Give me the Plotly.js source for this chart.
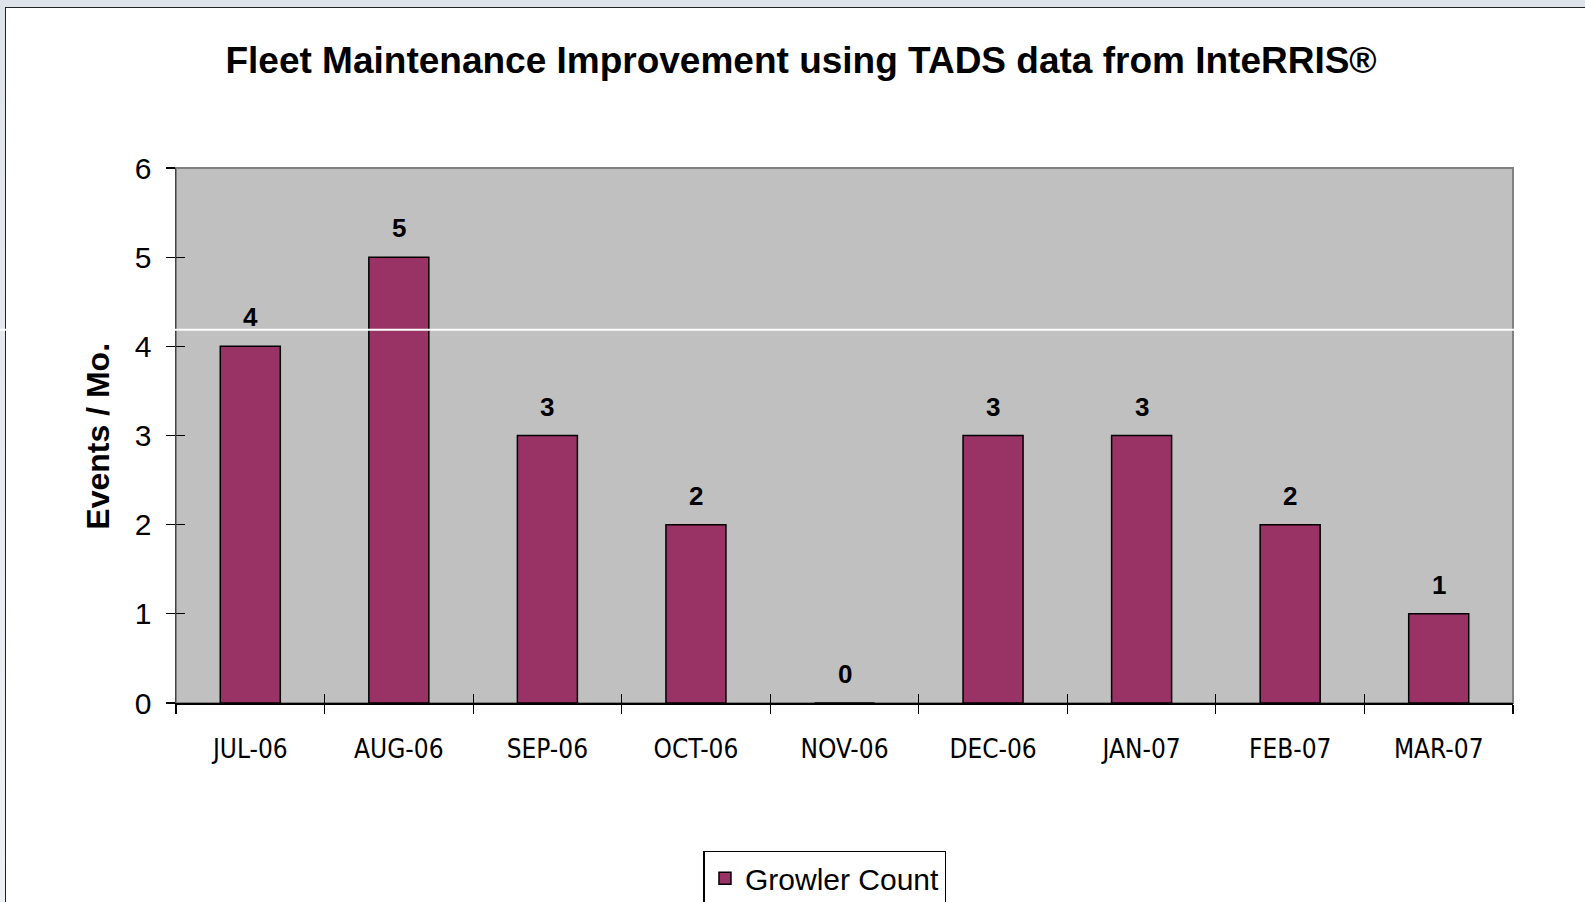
<!DOCTYPE html>
<html>
<head>
<meta charset="utf-8">
<script src="https://cdn.plot.ly/plotly-3.0.1.min.js"></script>
<style>
  html, body { margin:0; padding:0; width:1585px; height:902px; overflow:hidden;
    background: linear-gradient(180deg, #dfe4ea 0%, #eef1f4 100%); }
  #frame { position:absolute; left:5px; top:7px; width:1600px; height:920px;
    background:#ffffff; border:1.5px solid #222; }
  #chart { position:absolute; left:0; top:0; width:1585px; height:902px; }
</style>
</head>
<body>
<div id="frame"></div>
<div id="chart"></div>
<script>
// ---- data ----
const months = ['JUL-06','AUG-06','SEP-06','OCT-06','NOV-06','DEC-06','JAN-07','FEB-07','MAR-07'];
const growlerCount = [4, 5, 3, 2, 0, 3, 3, 2, 1];
const seriesName = 'Growler Count';
const chartTitle = 'Fleet Maintenance Improvement using TADS data from InteRRIS®';
const yTitle = 'Events / Mo.';
const yTickVals = [0, 1, 2, 3, 4, 5, 6];

const FONT = 'Liberation Sans, Arial, sans-serif';
const NARROW = 'DejaVu Sans Condensed, Liberation Sans, Arial, sans-serif';

const bars = {
  type: 'bar',
  x: months,
  y: growlerCount,
  name: seriesName,
  marker: { color: '#993366', line: { color: '#000000', width: 1.5 } },
  hoverinfo: 'x+y'
};

// helper overlay trace for inside tick marks
const boundaries = months.map((_, i) => i - 0.5).concat([months.length - 0.5]);
const overlay = {
  type: 'scatter', x: [], y: [], xaxis: 'x2', yaxis: 'y2',
  showlegend: false, hoverinfo: 'skip'
};

const labels = months.map((m, i) => ({
  x: m, y: growlerCount[i], xref: 'x', yref: 'y',
  text: '<b>' + growlerCount[i] + '</b>',
  showarrow: false, yanchor: 'bottom', yshift: 12,
  font: { family: FONT, size: 26, color: '#000' }
}));

labels.push({
  xref: 'paper', yref: 'paper', x: -0.0584, y: 0.4995,
  xanchor: 'center', yanchor: 'middle', textangle: -90,
  text: '<b>' + yTitle + '</b>', showarrow: false,
  font: { family: FONT, size: 32, color: '#000' }
});

const layout = {
  width: 1585, height: 902,
  paper_bgcolor: 'rgba(0,0,0,0)',
  plot_bgcolor: '#C0C0C0',
  margin: { l: 176, r: 72, t: 168, b: 199, autoexpand: false },
  title: {
    text: '<b>' + chartTitle + '</b>',
    x: 0.5054, xanchor: 'center', y: 0.9335, yanchor: 'middle',
    font: { family: FONT, size: 37, color: '#000' }
  },
  bargap: 0.596,
  xaxis: {
    type: 'category',
    tickson: 'boundaries',
    ticks: 'outside', ticklen: 9, tickwidth: 1.2, tickcolor: '#000',
    showline: true, linecolor: '#000', linewidth: 1.5,
    showgrid: false, zeroline: false,
    ticklabelstandoff: 22,
    tickfont: { family: NARROW, size: 26, color: '#000' },
    fixedrange: true
  },
  yaxis: {
    range: [0, 6],
    tickvals: yTickVals,
    ticks: 'outside', ticklen: 9, tickwidth: 1.2, tickcolor: '#000',
    showline: true, linecolor: '#444', linewidth: 1.5,
    showgrid: false, zeroline: false,
    ticklabelstandoff: 8,
    tickfont: { family: FONT, size: 30, color: '#000' },
    fixedrange: true
  },
  xaxis2: {
    overlaying: 'x', anchor: 'y2', range: [-0.5, months.length - 0.5],
    tickvals: boundaries, ticks: 'inside', ticklen: 9, tickwidth: 1.2, tickcolor: '#000',
    showticklabels: false, showline: false, showgrid: false, zeroline: false, fixedrange: true
  },
  yaxis2: {
    overlaying: 'y', anchor: 'x2', side: 'left', range: [0, 6],
    tickvals: yTickVals, ticks: 'inside', ticklen: 9, tickwidth: 1.2, tickcolor: '#000',
    showticklabels: false, showline: false, showgrid: false, zeroline: false, fixedrange: true
  },
  showlegend: true,
  legend: {
    x: 0.4854, xanchor: 'center', y: -0.276, yanchor: 'top',
    orientation: 'h',
    bgcolor: '#ffffff', bordercolor: '#000', borderwidth: 1.5,
    font: { family: FONT, size: 30, color: '#000' }
  },
  annotations: labels,
  shapes: [
    { type: 'rect', xref: 'paper', yref: 'paper', x0: 0, x1: 1, y0: 0, y1: 1,
      line: { color: '#808080', width: 2 }, fillcolor: 'rgba(0,0,0,0)', layer: 'below' },
    { type: 'line', xref: 'paper', yref: 'paper', x0: -0.132, x1: 1.055, y0: 0.6978, y1: 0.6978,
      line: { color: '#ffffff', width: 2 }, layer: 'above' }
  ]
};

Plotly.newPlot('chart', [bars, overlay], layout, { displayModeBar: false, staticPlot: true });
</script>
</body>
</html>
